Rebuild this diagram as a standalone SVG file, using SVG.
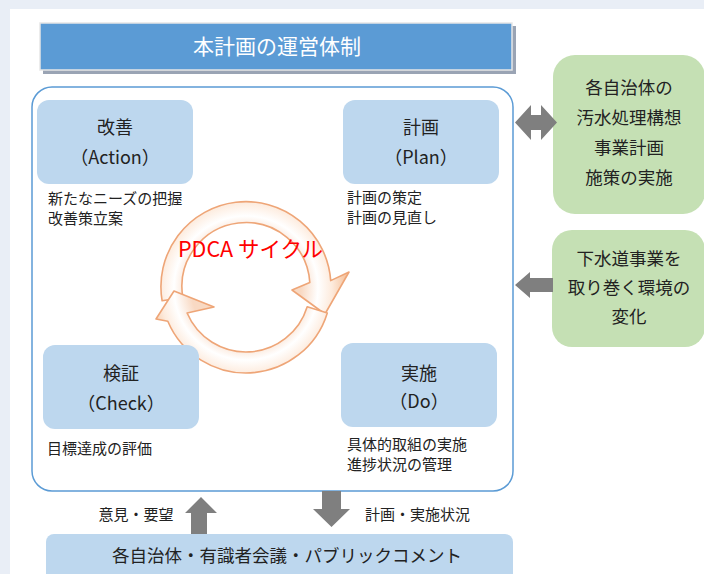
<svg xmlns="http://www.w3.org/2000/svg" width="704" height="574" viewBox="0 0 704 574">
<defs>
<style>
text{font-family:"Noto Sans CJK JP","Noto Sans",sans-serif;fill:#222}
.bt{font-size:18px;text-anchor:middle}
.st{font-size:15px}
.gt{font-size:17.5px;text-anchor:middle}
.box{fill:#bdd7ee}
.green{fill:#c5e0b4}
.arr{fill:#7f7f7f}
.ring{fill:url(#rg);stroke:#eea577;stroke-width:1.6;stroke-linejoin:round}
</style>
<radialGradient id="rg" gradientUnits="userSpaceOnUse" cx="246" cy="288" r="100">
<stop offset="0.55" stop-color="#f8d9c3"/>
<stop offset="0.72" stop-color="#ffffff"/>
<stop offset="0.86" stop-color="#fdebdd"/>
<stop offset="1" stop-color="#f6c6a2"/>
</radialGradient>
</defs>
<rect x="0" y="0" width="704" height="574" fill="#e9eef6"/>
<rect x="10" y="9" width="694" height="565" fill="#ffffff"/>

<g id="title">
<rect x="43" y="26" width="473" height="48" fill="#9aa4b4"/>
<rect x="40" y="23" width="472" height="47" fill="#5b9bd5" stroke="#e6e6e6" stroke-width="1.5"/>
<text x="277" y="53.5" style="font-size:21px;text-anchor:middle;fill:#ffffff">本計画の運営体制</text>
</g>

<g id="frame">
<rect x="32" y="87" width="481" height="404" rx="20" fill="#ffffff" stroke="#5b9bd5" stroke-width="1.5"/>
</g>

<g id="cycle">
<path class="ring" d="M162.1,300.8 A85,85 0 1 1 330.7,280.6 L349,272 L325,314 L292,290 L309.8,282.4 A64,64 0 1 0 182.9,297.6 Z"/>
<path class="ring" d="M327.3,312.9 A85,85 0 0 1 167.8,321.2 L156,319 L174,291 L214,307 L187.1,313 A64,64 0 0 0 307.2,306.7 Z"/>
<text x="178" y="257" style="font-size:21.5px;fill:#ff0000">PDCA サイクル</text>
</g>

<g id="action">
<rect class="box" x="37" y="100" width="156" height="84" rx="12"/>
<text class="bt" x="115" y="134">改善</text>
<text class="bt" x="115" y="164">（Action）</text>
<text class="st" x="48" y="204">新たなニーズの把握</text>
<text class="st" x="48" y="224">改善策立案</text>
</g>

<g id="plan">
<rect class="box" x="343" y="100" width="156" height="84" rx="12"/>
<text class="bt" x="421" y="134">計画</text>
<text class="bt" x="421" y="164">（Plan）</text>
<text class="st" x="347" y="203">計画の策定</text>
<text class="st" x="347" y="223">計画の見直し</text>
</g>

<g id="check">
<rect class="box" x="43" y="345" width="156" height="84" rx="12"/>
<text class="bt" x="121" y="380">検証</text>
<text class="bt" x="121" y="409.5">（Check）</text>
<text class="st" x="47" y="454">目標達成の評価</text>
</g>

<g id="do">
<rect class="box" x="341" y="343" width="156" height="84" rx="12"/>
<text class="bt" x="419" y="380">実施</text>
<text class="bt" x="419" y="407.5">（Do）</text>
<text class="st" x="347" y="450">具体的取組の実施</text>
<text class="st" x="347" y="470">進捗状況の管理</text>
</g>

<g id="municipal">
<rect class="green" x="553" y="55" width="152" height="159" rx="22"/>
<text class="gt" x="629" y="94">各自治体の</text>
<text class="gt" x="629" y="124">汚水処理構想</text>
<text class="gt" x="629" y="154">事業計画</text>
<text class="gt" x="629" y="184">施策の実施</text>
</g>

<g id="environment">
<rect class="green" x="552" y="230" width="153" height="117" rx="20"/>
<text class="gt" x="629" y="265">下水道事業を</text>
<text class="gt" x="629" y="294">取り巻く環境の</text>
<text class="gt" x="629" y="323">変化</text>
</g>

<g id="public">
<rect class="box" x="46" y="534" width="467" height="50" rx="8"/>
<text x="287" y="562" style="font-size:17.5px;text-anchor:middle">各自治体・有識者会議・パブリックコメント</text>
</g>

<g id="connectors">
<polygon class="arr" points="515,122.5 531,105 531,115 541,115 541,105 557,122.5 541,140 541,130 531,130 531,140"/>
<polygon class="arr" points="515,285 530,272 530,278 553,278 553,292 530,292 530,298"/>
<polygon class="arr" points="201,497 217,513 207,513 207,534 191,534 191,513 185,513"/>
<polygon class="arr" points="322,491 341,491 341,509 350,509 331.5,527 313,509 322,509"/>
<text x="136" y="519.5" style="font-size:15px;text-anchor:middle">意見・要望</text>
<text x="365" y="519.5" style="font-size:15px">計画・実施状況</text>
</g>
</svg>
